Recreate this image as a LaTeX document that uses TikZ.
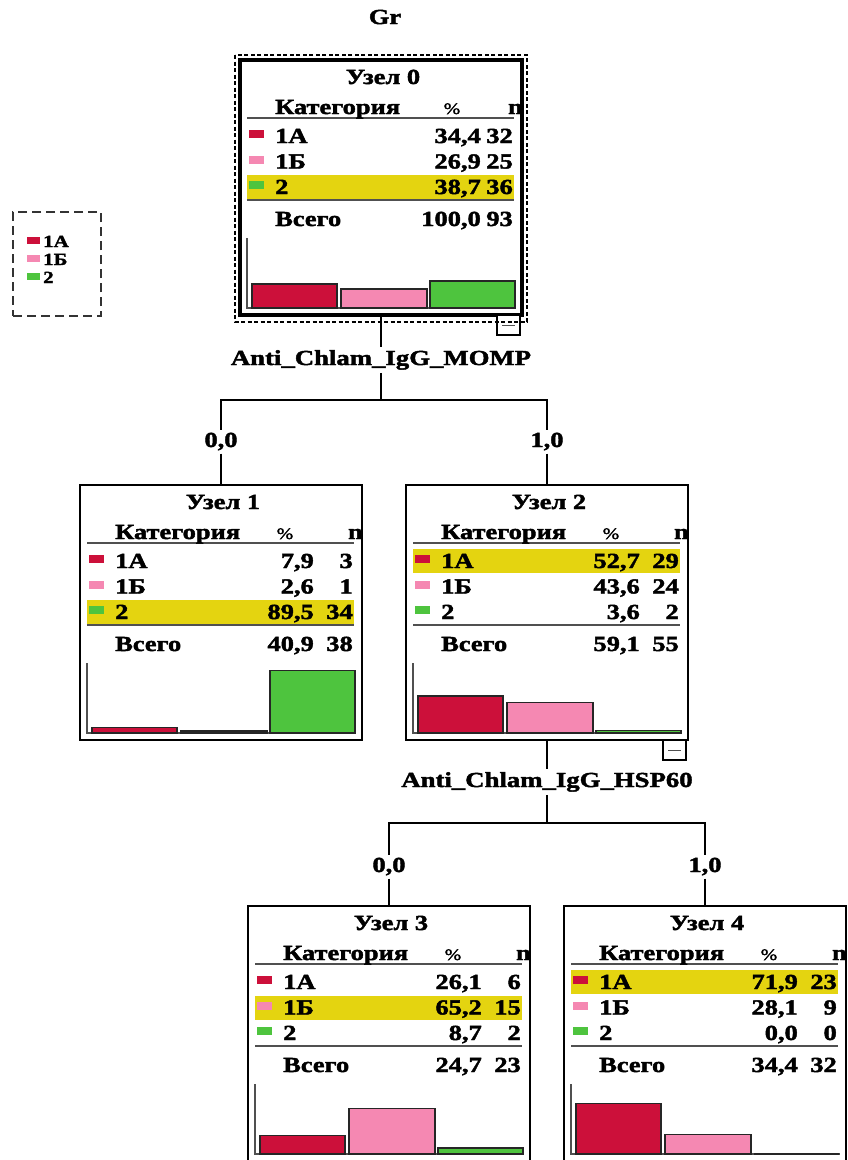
\documentclass[tikz,border=0pt]{standalone}
\usepackage{fontspec}
\newfontfamily\cellfont{Liberation Serif}[FakeStretch=1.23, FakeBold=2]
\newfontfamily\splitfont{Liberation Serif}[FakeStretch=1.25, FakeBold=2]

\definecolor{catA}{RGB}{204,16,58}
\definecolor{catB}{RGB}{245,136,178}
\definecolor{catC}{RGB}{78,196,62}
\definecolor{hilite}{RGB}{228,212,16}
\definecolor{rulegray}{RGB}{80,80,80}

\tikzset{
  cell/.style={font=\cellfont\bfseries\fontsize{21.5}{24}\selectfont, inner sep=0pt},
  legtext/.style={font=\cellfont\bfseries\fontsize{17}{19}\selectfont, inner sep=0pt},
  splitlabel/.style={font=\splitfont\bfseries\fontsize{21.4}{24}\selectfont, inner sep=3pt},
  edgelabel/.style={cell, inner sep=3pt},
  tbox/.style={draw=black, line width=1.8pt, fill=white, minimum width=282pt,
               minimum height=255pt, anchor=north west, inner sep=0pt, outer sep=0pt},
  rule/.style={draw=rulegray, line width=1.6pt},
  bar/.style={draw=black!85, line width=1.5pt},
  conn/.style={draw=black, line width=1.8pt},
  togglebox/.style={draw=black, line width=1.3pt, fill=white},
  legendframe/.style={draw=black!80, line width=1.5pt, dash pattern=on 9pt off 5pt,
                      minimum width=88pt, minimum height=104pt, anchor=north west,
                      inner sep=0pt, outer sep=0pt},
}

% frame of one tree node: #1 name, #2 title, #3 right edge of the % column,
% #4 centre of the highlighted row, #5 border width, #6 1 = node has a collapse box
\newcommand{\treenode}[6]{%
  \node[tbox, line width=#5] (#1) at (0,0) {};
  \fill[hilite] (7,{#4-12}) rectangle (274,{#4+12});
  \draw[rule] (7,58) -- (274,58);
  \draw[rule] (7,140) -- (274,140);
  \draw[rule] (7,178) -- (7,248) -- (276,248);
  \node[cell, anchor=base] (#1-title) at (143,24) {#2};
  \node[cell, anchor=base west] (#1-hcat) at (35,54) {Категория};
  \node[cell, anchor=base, font=\cellfont\fontsize{16}{18}\selectfont] (#1-hpct) at ({#3-29},54) {\%};
  \node[cell, anchor=base east] (#1-hn) at (283,54) {n};
  \ifnum#6=1
    \draw[togglebox] (257,255) rectangle (280,275);
    \draw[rule, line width=1pt] (262,265) -- (275,265);
  \fi
}

% one category row: #1 node, #2 tag, #3 colour, #4 label, #5 percent, #6 count,
% #7 row centre, #8 right edge of the % column
\newcommand{\catrow}[8]{%
  \fill[#3] (9,{#7-6}) rectangle (24,{#7+2});
  \node[cell, anchor=base west] (#1-#2) at (35,{#7+7}) {#4};
  \node[cell, anchor=base east] (#1-#2p) at (#8,{#7+7}) {#5};
  \node[cell, anchor=base east] (#1-#2n) at (273,{#7+7}) {#6};
}

% total row: #1 node, #2 percent, #3 count, #4 right edge of the % column
\newcommand{\totrow}[4]{%
  \node[cell, anchor=base west] (#1-tot) at (35,166) {Всего};
  \node[cell, anchor=base east] (#1-totp) at (#4,166) {#2};
  \node[cell, anchor=base east] (#1-totn) at (273,166) {#3};
}

% bar chart of the three categories (heights in percent)
\newcommand{\catbars}[3]{%
  \draw[bar, fill=catA] (12,248) rectangle (97,{248-0.7*#1});
  \draw[bar, fill=catB] (101,248) rectangle (187,{248-0.7*#2});
  \draw[bar, fill=catC] (190,248) rectangle (275,{248-0.7*#3});
}

\begin{document}
\begin{tikzpicture}[x=1pt, y=-1pt]
\fill[white] (0,0) rectangle (848,1160);
\useasboundingbox (0,0) rectangle (848,1160);

\node[cell, anchor=base] (gr) at (385,24) {Gr};

% legend
\node[legendframe] (legend) at (13,212) {};
\fill[catA] (27,237) rectangle (40,244);
\node[legtext, anchor=base west] (leg-a) at (43,247) {1А};
\fill[catB] (27,255) rectangle (40,262);
\node[legtext, anchor=base west] (leg-b) at (43,265) {1Б};
\fill[catC] (27,273) rectangle (40,280);
\node[legtext, anchor=base west] (leg-c) at (43,283) {2};

% root
\begin{scope}[shift={(240,60)}]
  \treenode{n0}{Узел 0}{241}{127}{3.2pt}{1}
  \catrow{n0}{a}{catA}{1А}{34,4}{32}{76}{241}
  \catrow{n0}{b}{catB}{1Б}{26,9}{25}{101.5}{241}
  \catrow{n0}{c}{catC}{2}{38,7}{36}{127}{241}
  \totrow{n0}{100,0}{93}{241}
  \catbars{34.4}{26.9}{38.7}
\end{scope}
\draw[line width=1.4pt, dash pattern=on 4pt off 2.5pt]
  ([shift={(-5pt,5pt)}]n0.north west) rectangle ([shift={(5pt,-7pt)}]n0.south east);

% first level
\begin{scope}[shift={(80,485)}]
  \treenode{n1}{Узел 1}{234}{127}{1.8pt}{0}
  \catrow{n1}{a}{catA}{1А}{7,9}{3}{76}{234}
  \catrow{n1}{b}{catB}{1Б}{2,6}{1}{101.5}{234}
  \catrow{n1}{c}{catC}{2}{89,5}{34}{127}{234}
  \totrow{n1}{40,9}{38}{234}
  \catbars{7.9}{2.6}{89.5}
\end{scope}

\begin{scope}[shift={(406,485)}]
  \treenode{n2}{Узел 2}{234}{76}{1.8pt}{1}
  \catrow{n2}{a}{catA}{1А}{52,7}{29}{76}{234}
  \catrow{n2}{b}{catB}{1Б}{43,6}{24}{101.5}{234}
  \catrow{n2}{c}{catC}{2}{3,6}{2}{127}{234}
  \totrow{n2}{59,1}{55}{234}
  \catbars{52.7}{43.6}{3.6}
\end{scope}

% second level
\begin{scope}[shift={(248,906)}]
  \treenode{n3}{Узел 3}{234}{101.5}{1.8pt}{0}
  \catrow{n3}{a}{catA}{1А}{26,1}{6}{76}{234}
  \catrow{n3}{b}{catB}{1Б}{65,2}{15}{101.5}{234}
  \catrow{n3}{c}{catC}{2}{8,7}{2}{127}{234}
  \totrow{n3}{24,7}{23}{234}
  \catbars{26.1}{65.2}{8.7}
\end{scope}

\begin{scope}[shift={(564,906)}]
  \treenode{n4}{Узел 4}{234}{76}{1.8pt}{0}
  \catrow{n4}{a}{catA}{1А}{71,9}{23}{76}{234}
  \catrow{n4}{b}{catB}{1Б}{28,1}{9}{101.5}{234}
  \catrow{n4}{c}{catC}{2}{0,0}{0}{127}{234}
  \totrow{n4}{34,4}{32}{234}
  \catbars{71.9}{28.1}{0}
\end{scope}

% heights of the split bars and the labels
\coordinate (bar0) at (0,400);
\coordinate (lab0) at (0,447);
\coordinate (bar2) at (0,823);
\coordinate (lab2) at (0,872);

% split on Anti_Chlam_IgG_MOMP
\coordinate (h0) at (n0.south |- bar0);
\node[splitlabel, anchor=base] (s0) at ([yshift=-50pt]n0.south) {Anti\_Chlam\_IgG\_MOMP};
\node[edgelabel, anchor=base] (e1) at (n1.north |- lab0) {0,0};
\node[edgelabel, anchor=base] (e2) at (n2.north |- lab0) {1,0};
\draw[conn] (n0.south) -- (s0.north);
\draw[conn] (s0.south) -- (h0);
\draw[conn] (h0) -| (e1.north);
\draw[conn] (e1.south) -- (n1.north);
\draw[conn] (h0) -| (e2.north);
\draw[conn] (e2.south) -- (n2.north);

% split on Anti_Chlam_IgG_HSP60
\coordinate (h2) at (n2.south |- bar2);
\node[splitlabel, anchor=base] (s2) at ([yshift=-47pt]n2.south) {Anti\_Chlam\_IgG\_HSP60};
\node[edgelabel, anchor=base] (e3) at (n3.north |- lab2) {0,0};
\node[edgelabel, anchor=base] (e4) at (n4.north |- lab2) {1,0};
\draw[conn] (n2.south) -- (s2.north);
\draw[conn] (s2.south) -- (h2);
\draw[conn] (h2) -| (e3.north);
\draw[conn] (e3.south) -- (n3.north);
\draw[conn] (h2) -| (e4.north);
\draw[conn] (e4.south) -- (n4.north);
\end{tikzpicture}
\end{document}
